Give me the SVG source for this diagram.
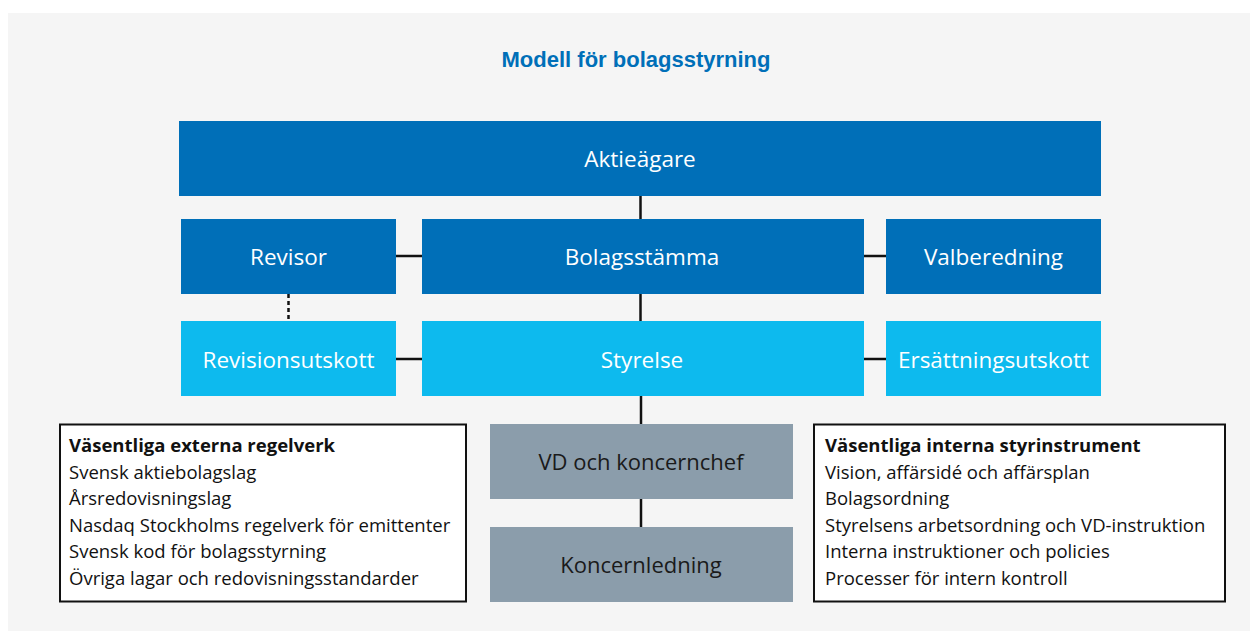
<svg xmlns="http://www.w3.org/2000/svg" width="1250" height="635" viewBox="0 0 1250 635">
<style>
.bg{fill:#f5f5f5}
.dark{fill:#006fb8}
.light{fill:#0dbaee}
.grey{fill:#8b9dab}
.box{fill:#ffffff;stroke:#111;stroke-width:2}
.lbl{font-family:"Open Sans","Noto Sans",sans-serif;font-size:22.5px;fill:#fff;text-anchor:middle}
.lbld{font-family:"Open Sans","Noto Sans",sans-serif;font-size:22px;fill:#1a1a1a;text-anchor:middle}
.title{font-family:"Liberation Sans",Arial,sans-serif;font-size:22px;font-weight:bold;fill:#006fb8;text-anchor:middle}
.lst{font-family:"Open Sans","Noto Sans",sans-serif;font-size:18.5px;fill:#111}
.hd{font-weight:bold}
.conn{stroke:#111;stroke-width:2.5;fill:none}
.dot{stroke:#111;stroke-width:2.5;fill:none;stroke-dasharray:4 3}
</style>
<rect class="bg" x="8" y="13" width="1242" height="618"/>
<text class="title" x="636" y="67">Modell för bolagsstyrning</text>
<g id="connectors">
<line class="conn" x1="640.5" y1="196" x2="640.5" y2="219"/>
<line class="conn" x1="640.5" y1="294" x2="640.5" y2="321"/>
<line class="conn" x1="641" y1="396" x2="641" y2="424"/>
<line class="conn" x1="641" y1="499" x2="641" y2="527"/>
<line class="conn" x1="396" y1="256" x2="422" y2="256"/>
<line class="conn" x1="864" y1="256" x2="886" y2="256"/>
<line class="conn" x1="396" y1="359" x2="422" y2="359"/>
<line class="conn" x1="864" y1="359" x2="886" y2="359"/>
<line class="dot" x1="288.5" y1="294" x2="288.5" y2="321"/>
</g>
<g id="aktieagare"><rect class="dark" x="179" y="121" width="922" height="75"/><text class="lbl" x="640" y="167">Aktieägare</text></g>
<g id="revisor"><rect class="dark" x="181" y="219" width="215" height="75"/><text class="lbl" x="288.5" y="265">Revisor</text></g>
<g id="bolagsstamma"><rect class="dark" x="422" y="219" width="442" height="75"/><text class="lbl" x="642" y="265">Bolagsstämma</text></g>
<g id="valberedning"><rect class="dark" x="886" y="219" width="215" height="75"/><text class="lbl" x="993.5" y="265">Valberedning</text></g>
<g id="revisionsutskott"><rect class="light" x="181" y="321" width="215" height="75"/><text class="lbl" x="288.5" y="368">Revisionsutskott</text></g>
<g id="styrelse"><rect class="light" x="422" y="321" width="442" height="75"/><text class="lbl" x="642" y="368">Styrelse</text></g>
<g id="ersattningsutskott"><rect class="light" x="886" y="321" width="215" height="75"/><text class="lbl" x="993.5" y="368">Ersättningsutskott</text></g>
<g id="vd"><rect class="grey" x="490" y="424" width="303" height="75"/><text class="lbld" x="641" y="470">VD och koncernchef</text></g>
<g id="koncernledning"><rect class="grey" x="490" y="527" width="303" height="75"/><text class="lbld" x="641" y="573">Koncernledning</text></g>
<g id="externa">
<rect class="box" x="60" y="424.5" width="406" height="177"/>
<text class="lst" x="69"><tspan class="hd" x="69" y="452">Väsentliga externa regelverk</tspan><tspan x="69" y="478.5">Svensk aktiebolagslag</tspan><tspan x="69" y="505">Årsredovisningslag</tspan><tspan x="69" y="531.5">Nasdaq Stockholms regelverk för emittenter</tspan><tspan x="69" y="558">Svensk kod för bolagsstyrning</tspan><tspan x="69" y="584.5">Övriga lagar och redovisningsstandarder</tspan></text>
</g>
<g id="interna">
<rect class="box" x="814" y="424.5" width="411" height="177"/>
<text class="lst" x="825"><tspan class="hd" x="825" y="452">Väsentliga interna styrinstrument</tspan><tspan x="825" y="478.5">Vision, affärsidé och affärsplan</tspan><tspan x="825" y="505">Bolagsordning</tspan><tspan x="825" y="531.5">Styrelsens arbetsordning och VD-instruktion</tspan><tspan x="825" y="558">Interna instruktioner och policies</tspan><tspan x="825" y="584.5">Processer för intern kontroll</tspan></text>
</g>
</svg>
